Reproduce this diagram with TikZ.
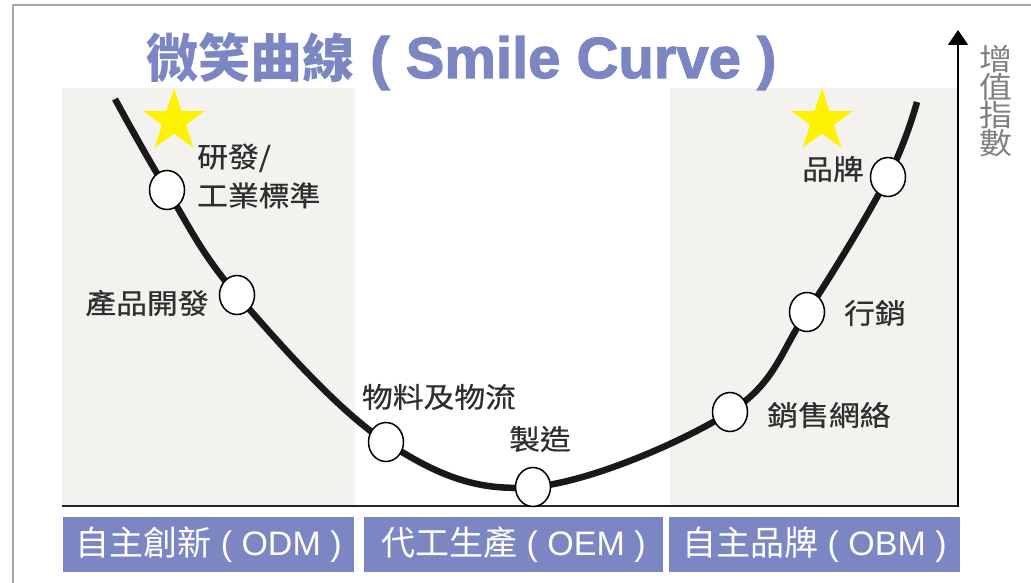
\documentclass[tikz,border=0pt]{standalone}
\usepackage{fontspec}
\setmainfont{Liberation Sans}
\newfontfamily\cjk{Noto Sans CJK TC}
\newfontfamily\cjkwide{Noto Sans CJK TC}[FakeStretch=1.1,FakeBold=0.6]
\newfontfamily\axisfont{Noto Sans CJK TC}[FakeStretch=1.1]
\newfontfamily\titlefont{Liberation Sans}[FakeBold=2]
\usetikzlibrary{arrows.meta,positioning,shapes.geometric}
\definecolor{smileblue}{HTML}{7B86C2}
\definecolor{smilebg}{HTML}{F3F2EE}
\definecolor{lblgray}{HTML}{2E2E2E}

\begin{document}
\begin{tikzpicture}[x=1pt,y=-1pt,
    dot/.style={ellipse,draw=black,line width=1.5,fill=white,minimum width=35,minimum height=39,inner sep=0},
    lbl/.style={font=\cjkwide\fontsize{28}{39}\selectfont,text=lblgray,inner sep=0},
    phase/.style={fill=smileblue,text=white,minimum height=55,inner sep=0,
      font=\fontsize{34}{34}\selectfont},
    goldstar/.style={star,star points=5,star point ratio=2.618,minimum size=66,inner sep=0,fill=yellow}]

            \useasboundingbox (0,0) rectangle (1031,583);
            \draw[black!35,line width=1.5] (13,600) -- (13,5) -- (1040,5);

            % value bands
            \fill[smilebg] (62,88) rectangle (355,506);
            \fill[smilebg] (670,88) rectangle (958,506);

            % axes
            \draw[line width=2,black!85] (62,506) -- (958,506);
            \draw[line width=2,-{Triangle[width=20,length=15]}] (958,507) -- (958,30);
            \node[font=\axisfont\fontsize{30}{28}\selectfont,text=black!50,align=center,inner sep=0] (axislbl) at (996,101) {增\\值\\指\\數};

            % title
            \node[anchor=base west,inner sep=0,text=smileblue] (title) at (146,78)
              {{\cjk\bfseries\fontsize{52}{52}\selectfont 微笑曲線}{\titlefont\bfseries\fontsize{58}{58}\selectfont\ (\ Smile Curve\ )}};

            % the curve
            \coordinate (top1) at (115,99);
            \coordinate (p1) at (167,190);
            \coordinate (p2) at (237,295);
            \coordinate (p3) at (386,442);
            \coordinate (p4) at (533,487);
            \coordinate (p5) at (730,412);
            \coordinate (p6) at (807,312);
            \coordinate (p7) at (888,177);
            \coordinate (top2) at (917,102);
            \draw[line width=6.5,black!90] plot[smooth,tension=0.6] coordinates
              {(top1) (p1) (p2) (p3) (p4) (p5) (p6) (p7) (top2)};

            \foreach \p in {p1,p2,p3,p4,p5,p6,p7}
            \node[dot] (\p dot) at (\p) {};

            \node[goldstar] (star1) at (174,121) {};
            \node[goldstar] (star2) at (822,121) {};

            % labels
            \node[lbl,anchor=west,align=left] (rd) at (197,176) {研發/\\工業標準};
            \node[lbl] (dev) at (147,303) {產品開發};
            \node[lbl] (logi) at (439,397) {物料及物流};
            \node[lbl] (make) at (540,439) {製造};
            \node[lbl] (sales) at (829,415) {銷售網絡};
            \node[lbl] (mkt) at (875,313) {行銷};
            \node[lbl] (brand) at (833,169) {品牌};

            % phases
            \node[phase,minimum width=291] (odm) at (208.5,544.5) {{\cjk 自主創新}\ (\ ODM\ )};
            \node[phase,minimum width=299] (oem) at (513.5,544.5) {{\cjk 代工生產}\ (\ OEM\ )};
            \node[phase,minimum width=291] (obm) at (814.5,544.5) {{\cjk 自主品牌}\ (\ OBM\ )};
\end{tikzpicture}
\end{document}
